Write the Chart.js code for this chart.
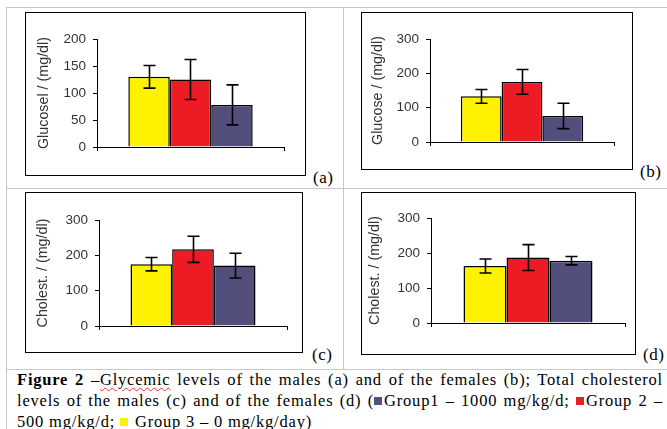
<!DOCTYPE html>
<html>
<head>
<meta charset="utf-8">
<script src="https://cdn.jsdelivr.net/npm/chart.js@4/dist/chart.umd.min.js"></script>
<style>
  html, body { margin: 0; padding: 0; background: #fff; }
  body { width: 667px; height: 429px; position: relative; overflow: hidden; }
  .ln { position: absolute; background: #c8c8c8; }
  .box { position: absolute; border: 1px solid #000; box-sizing: border-box; }
  .box canvas { display: block; }
  .lab { position: absolute; font-family: "Liberation Serif", "Times New Roman", serif; font-size: 17px; line-height: 16px; color: #000; letter-spacing: 0.5px; }
  #cap { position: absolute; left: 17px; top: 369px; width: 646px; font-family: "Liberation Serif", "Times New Roman", serif; font-size: 16.5px; letter-spacing: 0.8px; line-height: 21px; color: #000; }
  #cap .j2 { text-align: justify; text-align-last: justify; white-space: nowrap; }
  .sq { display: inline-block; width: 8px; height: 8px; vertical-align: 1px; margin-right: 2px; }
  .sp { text-decoration: underline wavy #e03030; text-decoration-thickness: 1px; text-underline-offset: 2px; }
</style>
</head>
<body>
<div class="ln" style="left:6px;top:7px;width:661px;height:1px"></div>
<div class="ln" style="left:6px;top:7px;width:1px;height:422px"></div>
<div class="ln" style="left:343px;top:7px;width:1px;height:362px"></div>
<div class="ln" style="left:6px;top:188px;width:661px;height:1px"></div>
<div class="ln" style="left:6px;top:369px;width:661px;height:1px"></div>

<div class="box" style="left:25px;top:12px;width:281px;height:164px"><canvas id="ca"></canvas></div>
<div class="box" style="left:361px;top:12px;width:272px;height:158px"><canvas id="cb"></canvas></div>
<div class="box" style="left:25px;top:192px;width:278px;height:161px"><canvas id="cc"></canvas></div>
<div class="box" style="left:361px;top:192px;width:275px;height:163px"><canvas id="cd"></canvas></div>

<div class="lab" style="left:313px;top:170px">(a)</div>
<div class="lab" style="left:640px;top:164px">(b)</div>
<div class="lab" style="left:312px;top:347px">(c)</div>
<div class="lab" style="left:643px;top:347px">(d)</div>

<div id="cap">
  <div class="j2"><b>Figure 2</b> –<span class="sp">Glycemic</span> levels of the males (a) and of the females (b); Total cholesterol</div>
  <div class="j2">levels of the males (c) and of the females (d) (<span class="sq" style="background:#534f7c"></span>Group1 – 1000 mg/kg/d; <span class="sq" style="background:#ed1c24"></span>Group 2 –</div>
  <div>500 mg/kg/d; <span class="sq" style="background:#fff200"></span> Group 3 – 0 mg/kg/day)</div>
</div>

<script>
// Series order: yellow (Group 3), red (Group 2), purple (Group 1)
const groups = ['Group 3 – 0 mg/kg/day', 'Group 2 – 500 mg/kg/d', 'Group1 – 1000 mg/kg/d'];
const groupColors = ['#fff200', '#ed1c24', '#534f7c'];

const glucoseMales = [130, 125, 78];
const glucoseMalesErr = [21, 37, 37];
const glucoseFemales = [133, 175, 76];
const glucoseFemalesErr = [20, 36, 37];
const cholMales = [175, 217, 171];
const cholMalesErr = [19, 37, 35];
const cholFemales = [163, 187, 178];
const cholFemalesErr = [20, 37, 12];

const ticksA = { max: 200, step: 50 };
const ticks300 = { max: 300, step: 100 };

const errorBarPlugin = {
  id: 'errorBars',
  afterDatasetsDraw(chart) {
    const ctx = chart.ctx;
    const y = chart.scales.y;
    ctx.save();
    ctx.strokeStyle = '#000';
    ctx.lineWidth = 1.6;
    chart.data.datasets.forEach((ds, i) => {
      const bar = chart.getDatasetMeta(i).data[0];
      const v = ds.data[0];
      const e = ds.err[0];
      const x = Math.round(bar.x) + 0.5;
      const yt = y.getPixelForValue(v + e);
      const yb = y.getPixelForValue(v - e);
      const hw = 6;
      ctx.beginPath();
      ctx.moveTo(x, yt); ctx.lineTo(x, yb);
      ctx.moveTo(x - hw, yt); ctx.lineTo(x + hw, yt);
      ctx.moveTo(x - hw, yb); ctx.lineTo(x + hw, yb);
      ctx.stroke();
    });
    ctx.restore();
  }
};

function makeChart(id, w, h, values, errs, title, tk, geo) {
  const cv = document.getElementById(id);
  cv.style.width = w + 'px';
  cv.style.height = h + 'px';
  cv.width = w; cv.height = h;
  return new Chart(cv, {
    type: 'bar',
    data: {
      labels: [''],
      datasets: groups.map((g, i) => ({
        label: g,
        data: [values[i]],
        err: [errs[i]],
        backgroundColor: groupColors[i],
        borderColor: '#000',
        borderWidth: 1.5,
        categoryPercentage: 0.665,
        barPercentage: 1
      }))
    },
    options: {
      responsive: false,
      animation: false,
      devicePixelRatio: 1,
      layout: { padding: { left: 0, top: geo.top, right: geo.right, bottom: 0 } },
      plugins: { legend: { display: false }, tooltip: { enabled: false } },
      scales: {
        x: {
          type: 'category',
          offset: true,
          grid: { offset: true, drawOnChartArea: false, tickLength: 4, color: '#000', lineWidth: 1 },
          border: { color: '#000', width: 1 },
          ticks: { display: false },
          afterFit(s) { s.height = geo.xh; }
        },
        y: {
          min: 0,
          max: tk.max,
          grid: { drawOnChartArea: false, tickLength: 4, color: '#000', lineWidth: 1 },
          border: { color: '#000', width: 1 },
          ticks: {
            stepSize: tk.step,
            padding: 7,
            color: '#333',
            font: { family: 'Liberation Sans, Arial, sans-serif', size: 13.5 }
          },
          title: {
            display: true,
            text: title,
            color: '#333',
            padding: { top: geo.tpad, bottom: 0 },
            font: { family: 'Liberation Sans, Arial, sans-serif', size: 14.3 }
          },
          afterFit(s) { s.width = geo.yw; }
        }
      }
    },
    plugins: [errorBarPlugin]
  });
}

makeChart('ca', 279, 162, glucoseMales, glucoseMalesErr, 'Glucosel / (mg/dl)', ticksA,
  { top: 26, right: 21, xh: 28, yw: 71, tpad: 9 });
makeChart('cb', 270, 156, glucoseFemales, glucoseFemalesErr, 'Glucose / (mg/dl)', ticks300,
  { top: 26, right: 18, xh: 27, yw: 68, tpad: 7 });
makeChart('cc', 276, 159, cholMales, cholMalesErr, 'Cholest. / (mg/dl)', ticks300,
  { top: 27, right: 15, xh: 26, yw: 73, tpad: 8 });
makeChart('cd', 273, 161, cholFemales, cholFemalesErr, 'Cholest. / (mg/dl)', ticks300,
  { top: 25, right: 10, xh: 31, yw: 69, tpad: 4 });
</script>
</body>
</html>
